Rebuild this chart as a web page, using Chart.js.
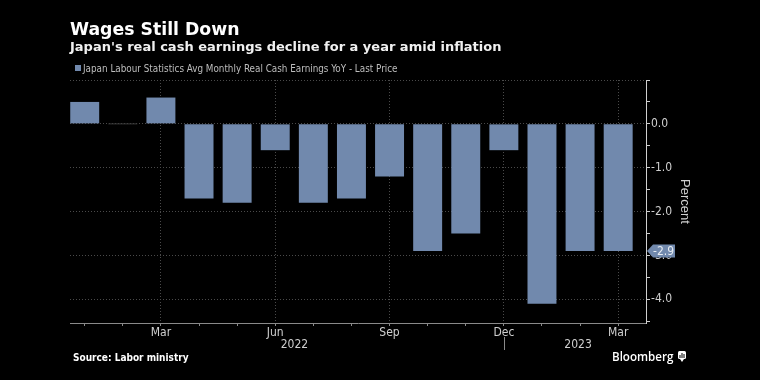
<!DOCTYPE html>
<html>
<head>
<meta charset="utf-8">
<script src="https://cdn.jsdelivr.net/npm/chart.js@4/dist/chart.umd.min.js"></script>
<style>
html,body{margin:0;padding:0;background:#000;overflow:hidden}
#wrap{width:760px;height:380px;position:relative}
canvas{display:block}
</style>
</head>
<body>
<div id="wrap"><canvas id="c" width="760" height="380"></canvas></div>
<script>
// ---- data ----
const titleText = "Wages Still Down";
const subtitleText = "Japan's real cash earnings decline for a year amid inflation";
const seriesName = "Japan Labour Statistics Avg Monthly Real Cash Earnings YoY - Last Price";
const sourceText = "Source: Labor ministry";
const brandText = "Bloomberg";
const months = ["Jan","Feb","Mar","Apr","May","Jun","Jul","Aug","Sep","Oct","Nov","Dec","Jan","Feb","Mar"];
const years  = [2022,2022,2022,2022,2022,2022,2022,2022,2022,2022,2022,2022,2023,2023,2023];
const labeledMonths = ["Mar","Jun","Sep","Dec"];
const values = [0.5, 0.0, 0.6, -1.7, -1.8, -0.6, -1.8, -1.7, -1.2, -2.9, -2.5, -0.6, -4.1, -2.9, -2.9];
const yTickValues = [1.0, 0.5, 0.0, -0.5, -1.0, -1.5, -2.0, -2.5, -3.0, -3.5, -4.0, -4.5];
const yLabeledTicks = [0.0, -1.0, -2.0, -3.0, -4.0];
const yAxisTitle = "Percent";

// ---- style ----
const BAR = '#7189ad';
const GRID = '#4a4a4a';
const TICKFONT = "'Liberation Sans Narrow','DejaVu Sans Condensed','Liberation Sans',sans-serif";

const points = values.map((v, i) => ({x: i, y: v}));

const decor = {
  id: 'decor',
  beforeDraw(chart) {
    const ctx = chart.ctx;
    ctx.save();
    ctx.fillStyle = '#000';
    ctx.fillRect(0, 0, chart.width, chart.height);
    ctx.restore();
  },
  afterDraw(chart) {
    const ctx = chart.ctx;
    const xs = chart.scales.x, ys = chart.scales.y, a = chart.chartArea;
    ctx.save();
    // header
    ctx.textBaseline = 'alphabetic';
    ctx.textAlign = 'left';
    ctx.fillStyle = '#ffffff';
    ctx.font = "bold 17.3px 'DejaVu Sans'";
    ctx.fillText(titleText, 70, 35);
    ctx.fillStyle = '#f0f0f0';
    ctx.font = "bold 13px 'DejaVu Sans'";
    ctx.fillText(subtitleText, 70, 51);
    // legend
    ctx.fillStyle = BAR;
    ctx.fillRect(75, 65, 6, 6);
    ctx.fillStyle = '#bdbdbd';
    ctx.font = "9.8px " + TICKFONT;
    ctx.fillText(chart.data.datasets[0].label, 83, 72);
    // year labels
    ctx.font = "12px " + TICKFONT;
    ctx.fillStyle = '#cfcfcf';
    ctx.textAlign = 'center';
    const uniq = [...new Set(years)];
    uniq.forEach((yr, k) => {
      const first = years.indexOf(yr), last = years.lastIndexOf(yr);
      const s = Math.max(a.left, xs.getPixelForValue(first - 0.5));
      const e = Math.min(a.right, xs.getPixelForValue(last + 0.5));
      ctx.fillText(String(yr), (s + e) / 2 - 2, 348);
      if (k > 0) {
        const px = Math.round(xs.getPixelForValue(first - 1)) + 0.5;
        ctx.strokeStyle = '#8a8a8a';
        ctx.lineWidth = 1;
        ctx.beginPath();
        ctx.moveTo(px, 337);
        ctx.lineTo(px, 350);
        ctx.stroke();
      }
    });
    // last value label
    const lastV = values[values.length - 1];
    const py = ys.getPixelForValue(lastV);
    const x0 = a.right + 1;
    ctx.fillStyle = BAR;
    ctx.beginPath();
    ctx.moveTo(x0, py);
    ctx.lineTo(x0 + 6, py - 6.5);
    ctx.lineTo(x0 + 28, py - 6.5);
    ctx.lineTo(x0 + 28, py + 6.5);
    ctx.lineTo(x0 + 6, py + 6.5);
    ctx.closePath();
    ctx.fill();
    ctx.fillStyle = '#e8edf3';
    ctx.textAlign = 'left';
    ctx.textBaseline = 'middle';
    ctx.font = "12px " + TICKFONT;
    ctx.fillText(lastV.toFixed(1), x0 + 6, py + 0.5);
    // footer
    ctx.textBaseline = 'alphabetic';
    ctx.fillStyle = '#ffffff';
    ctx.font = "bold 10px 'DejaVu Sans Condensed','DejaVu Sans'";
    ctx.fillText(sourceText, 73, 361);
    ctx.font = "600 11.6px 'Open Sans'";
    ctx.fillText(brandText, 612, 361);
    // brand icon
    ctx.fillStyle = '#ffffff';
    ctx.beginPath();
    ctx.roundRect(678, 351, 8, 8, 1.5);
    ctx.fill();
    ctx.beginPath();
    ctx.moveTo(680, 359); ctx.lineTo(682, 362); ctx.lineTo(684, 359);
    ctx.fill();
    ctx.fillStyle = '#000';
    ctx.fillRect(679.5, 355, 1, 3);
    ctx.fillRect(681.5, 353, 1, 5);
    ctx.fillRect(683.5, 354, 1, 4);
    ctx.restore();
  }
};

new Chart(document.getElementById('c'), {
  type: 'bar',
  data: {
    datasets: [{
      label: seriesName,
      data: points,
      backgroundColor: c => (c.raw && c.raw.y === 0) ? '#3a3a3a' : BAR,
      barPercentage: 0.76,
      categoryPercentage: 1,
      minBarLength: 1
    }]
  },
  options: {
    responsive: false,
    animation: false,
    devicePixelRatio: 1,
    layout: {padding: {left: 70, right: 64, top: 80, bottom: 0}},
    plugins: {legend: {display: false}, tooltip: {enabled: false}},
    scales: {
      x: {
        type: 'linear',
        min: -0.386,
        max: 14.73,
        offset: false,
        afterBuildTicks: s => { s.ticks = months.map((m, i) => ({value: i})); },
        afterFit: s => { s.height = 57; },
        ticks: {
          autoSkip: false, maxRotation: 0, minRotation: 0, padding: 0,
          color: '#cfcfcf', font: {family: TICKFONT, size: 12},
          callback: v => (Number.isInteger(v) && labeledMonths.includes(months[v])) ? months[v] : ''
        },
        grid: {
          offset: false,
          color: c => (c.tick && labeledMonths.includes(months[c.tick.value])) ? GRID : 'rgba(0,0,0,0)',
          tickColor: '#8a8a8a',
          tickLength: 3,
          lineWidth: 1
        },
        border: {color: '#8a8a8a', dash: [1, 2]}
      },
      y: {
        position: 'right',
        min: -4.54,
        max: 1.0,
        afterBuildTicks: s => { s.ticks = yTickValues.map(v => ({value: v})); },
        afterFit: s => { s.width = 50; },
        ticks: {
          padding: 1, color: '#cfcfcf', font: {family: TICKFONT, size: 12},
          callback: v => yLabeledTicks.includes(v) ? v.toFixed(1) : ''
        },
        grid: {
          color: c => (c.tick && Number.isInteger(c.tick.value)) ? GRID : 'rgba(0,0,0,0)',
          tickColor: '#cfcfcf',
          tickLength: 4,
          lineWidth: 1
        },
        border: {color: '#cfcfcf', dash: [1, 2]},
        title: {display: true, text: yAxisTitle, color: '#cfcfcf', font: {family: "'Liberation Sans','DejaVu Sans',sans-serif", size: 13}, padding: {top: 4, bottom: 0}}
      }
    }
  },
  plugins: [decor]
});
</script>
</body>
</html>
